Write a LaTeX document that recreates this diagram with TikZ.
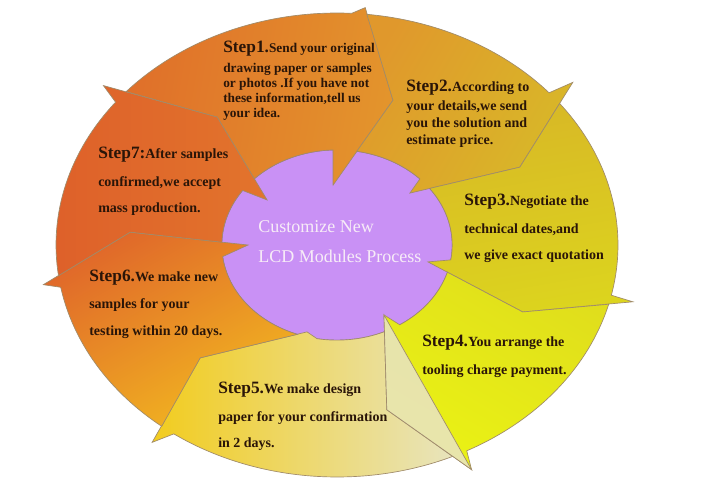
\documentclass[tikz,border=0pt]{standalone}
\usepackage{fontspec}
\setmainfont{Liberation Serif}
\definecolor{ink}{HTML}{2A1508}
\definecolor{segline}{HTML}{A08B6A}
\definecolor{hubfill}{HTML}{C991F5}
\definecolor{hubline}{HTML}{8E6AA8}
\definecolor{hubink}{HTML}{F7ECF7}
\definecolor{redA}{HTML}{DE602A}
\definecolor{redB}{HTML}{E2742C}
\definecolor{oraA}{HTML}{E0702A}
\definecolor{oraB}{HTML}{E3942C}
\definecolor{goldA}{HTML}{E0982C}
\definecolor{goldB}{HTML}{D8B828}
\definecolor{ochA}{HTML}{D8B826}
\definecolor{ochB}{HTML}{DCD41E}
\definecolor{limeA}{HTML}{E0DE1C}
\definecolor{limeB}{HTML}{EAF214}
\definecolor{yelA}{HTML}{F2CC1E}
\definecolor{yelM}{HTML}{F2DC1E}
\definecolor{beige}{HTML}{E8E4BC}
\definecolor{ambA}{HTML}{E0682A}
\definecolor{ambB}{HTML}{F2B820}

\newcommand{\steplbl}[1]{{\fontsize{13}{14}\selectfont #1}}

\begin{document}
\begin{tikzpicture}[x=0.75pt, y=-0.75pt,
  seg/.style={draw=segline, line width=0.5pt, line join=miter},
  hub/.style={fill=hubfill, draw=hubline, line width=0.5pt},
  steptext/.style={anchor=base west, align=left, inner sep=0pt, text=ink},
  hubtext/.style={anchor=base west, align=left, inner sep=0pt, text=hubink,
    font=\fontsize{13.5}{22}\selectfont}
]
\useasboundingbox (0,0) rectangle (717,497);
\fill[white] (0,0) rectangle (717,497);

\begin{scope}[shift={(337,245)}, xscale=281, yscale=-232]
  \path[hub] (0,0) circle[radius=0.41];
  % arrow heads: outer tip, kink, inner tip
  \coordinate (o1) at (84.4:1.03);   \coordinate (k1) at (72.3:0.656);  \coordinate (i1) at (93.1:0.259);
  \coordinate (o2) at (39.9:1.095);  \coordinate (k2) at (27.3:0.733);  \coordinate (i2) at (40.8:0.343);
  \coordinate (o3) at (-13.1:1.082); \coordinate (k3) at (-23.6:0.722); \coordinate (i3) at (-12.7:0.332);
  \coordinate (o4) at (-63.7:1.082); \coordinate (k4) at (-76:0.733);   \coordinate (i4) at (-61:0.345);
  \coordinate (o5) at (-127.7:1.077);\coordinate (k5) at (-135:0.689);  \coordinate (i5) at (-105.9:0.39);
  \coordinate (o6) at (189.3:1.06);  \coordinate (k6) at (175.7:0.739); \coordinate (i6) at (180:0.317);
  \coordinate (o7) at (140.4:1.08);  \coordinate (k7) at (127.7:0.698); \coordinate (i7) at (142:0.316);

  \shade[seg, left color=oraA, right color=oraB, shading angle=80]
    (138.6:1) arc[start angle=138.6, end angle=87, radius=1] -- (o1) -- (k1) -- (i1)
    -- (92:0.41) arc[start angle=92, end angle=135.9, radius=0.41] -- (k7) -- cycle;
  \shade[seg, left color=goldA, right color=goldB, shading angle=60]
    (83.9:1) arc[start angle=83.9, end angle=41, radius=1] -- (o2) -- (k2) -- (i2)
    -- (44:0.41) arc[start angle=44, end angle=80.1, radius=0.41] -- (k1) -- cycle;
  \shade[seg, left color=ochA, right color=ochB, shading angle=10]
    (37.6:1) arc[start angle=37.6, end angle=-12.5, radius=1] -- (o3) -- (k3) -- (i3)
    -- (-9:0.41) arc[start angle=-9, end angle=36.5, radius=0.41] -- (k2) -- cycle;
  \shade[seg, left color=limeA, right color=limeB, shading angle=-30]
    (-14.8:1) arc[start angle=-14.8, end angle=-62.5, radius=1] -- (o4) -- (k4) -- (i4)
    -- (-57:0.41) arc[start angle=-57, end angle=-16.6, radius=0.41] -- (k3) -- cycle;
  \shade[seg, left color=yelA, middle color=yelM, right color=beige]
    (-65.7:1) arc[start angle=-65.7, end angle=-125.5, radius=1] -- (o5) -- (k5) -- (i5)
    -- (-100:0.41) arc[start angle=-100, end angle=-65.7, radius=0.41] -- (k4) -- cycle;
  \shade[seg, left color=ambA, right color=ambB, shading angle=30]
    (-128.6:1) arc[start angle=-128.6, end angle=-169.5, radius=1] -- (o6) -- (k6) -- (i6)
    -- (187:0.41) arc[start angle=187, end angle=249.9, radius=0.41] -- (k5) -- cycle;
  \shade[seg, left color=redA, right color=redB, shading angle=90]
    (187.6:1) arc[start angle=187.6, end angle=142, radius=1] -- (o7) -- (k7) -- (i7)
    -- (145:0.41) arc[start angle=145, end angle=178.3, radius=0.41] -- (k6) -- cycle;

  \fill[beige, opacity=0.9] (i4) -- (k4) -- (o4) -- cycle;
  \draw[segline, line width=0.5pt] (i4) -- (k4) -- (o4) -- cycle;
\end{scope}

% multi-line nodes sit on the baseline of their last line
\node[hubtext] (hub) at (258,262) {Customize New\\LCD Modules Process};

\node[steptext, font=\fontsize{10}{11.25}\selectfont\bfseries] (s1) at (223,117)
  {\steplbl{Step1.}Send your original\\[3.75pt]drawing paper or samples\\or photos .If you have not\\these information,tell us\\your idea.};
\node[steptext, font=\fontsize{10.5}{12.75}\selectfont\bfseries] (s2) at (406,144)
  {\steplbl{Step2.}According to\\[1.5pt]your details,we send\\you the solution and\\estimate price.};
\node[steptext, font=\fontsize{10.5}{19.5}\selectfont\bfseries] (s3) at (464,259)
  {\steplbl{Step3.}Negotiate the\\[1pt]technical dates,and\\we give exact quotation};
\node[steptext, font=\fontsize{10.5}{21}\selectfont\bfseries] (s4) at (422,374)
  {\steplbl{Step4.}You arrange the\\tooling charge payment.};
\node[steptext, font=\fontsize{10.5}{19.5}\selectfont\bfseries] (s5) at (218,447)
  {\steplbl{Step5.}We make design\\[1pt]paper for your confirmation\\in 2 days.};
\node[steptext, font=\fontsize{10.5}{20}\selectfont\bfseries] (s6) at (89,335)
  {\steplbl{Step6.}We make new\\samples for your\\testing within 20 days.};
\node[steptext, font=\fontsize{10.5}{19.5}\selectfont\bfseries] (s7) at (98,212)
  {\steplbl{Step7:}After samples\\[1.5pt]confirmed,we accept\\mass production.};
\end{tikzpicture}
\end{document}
